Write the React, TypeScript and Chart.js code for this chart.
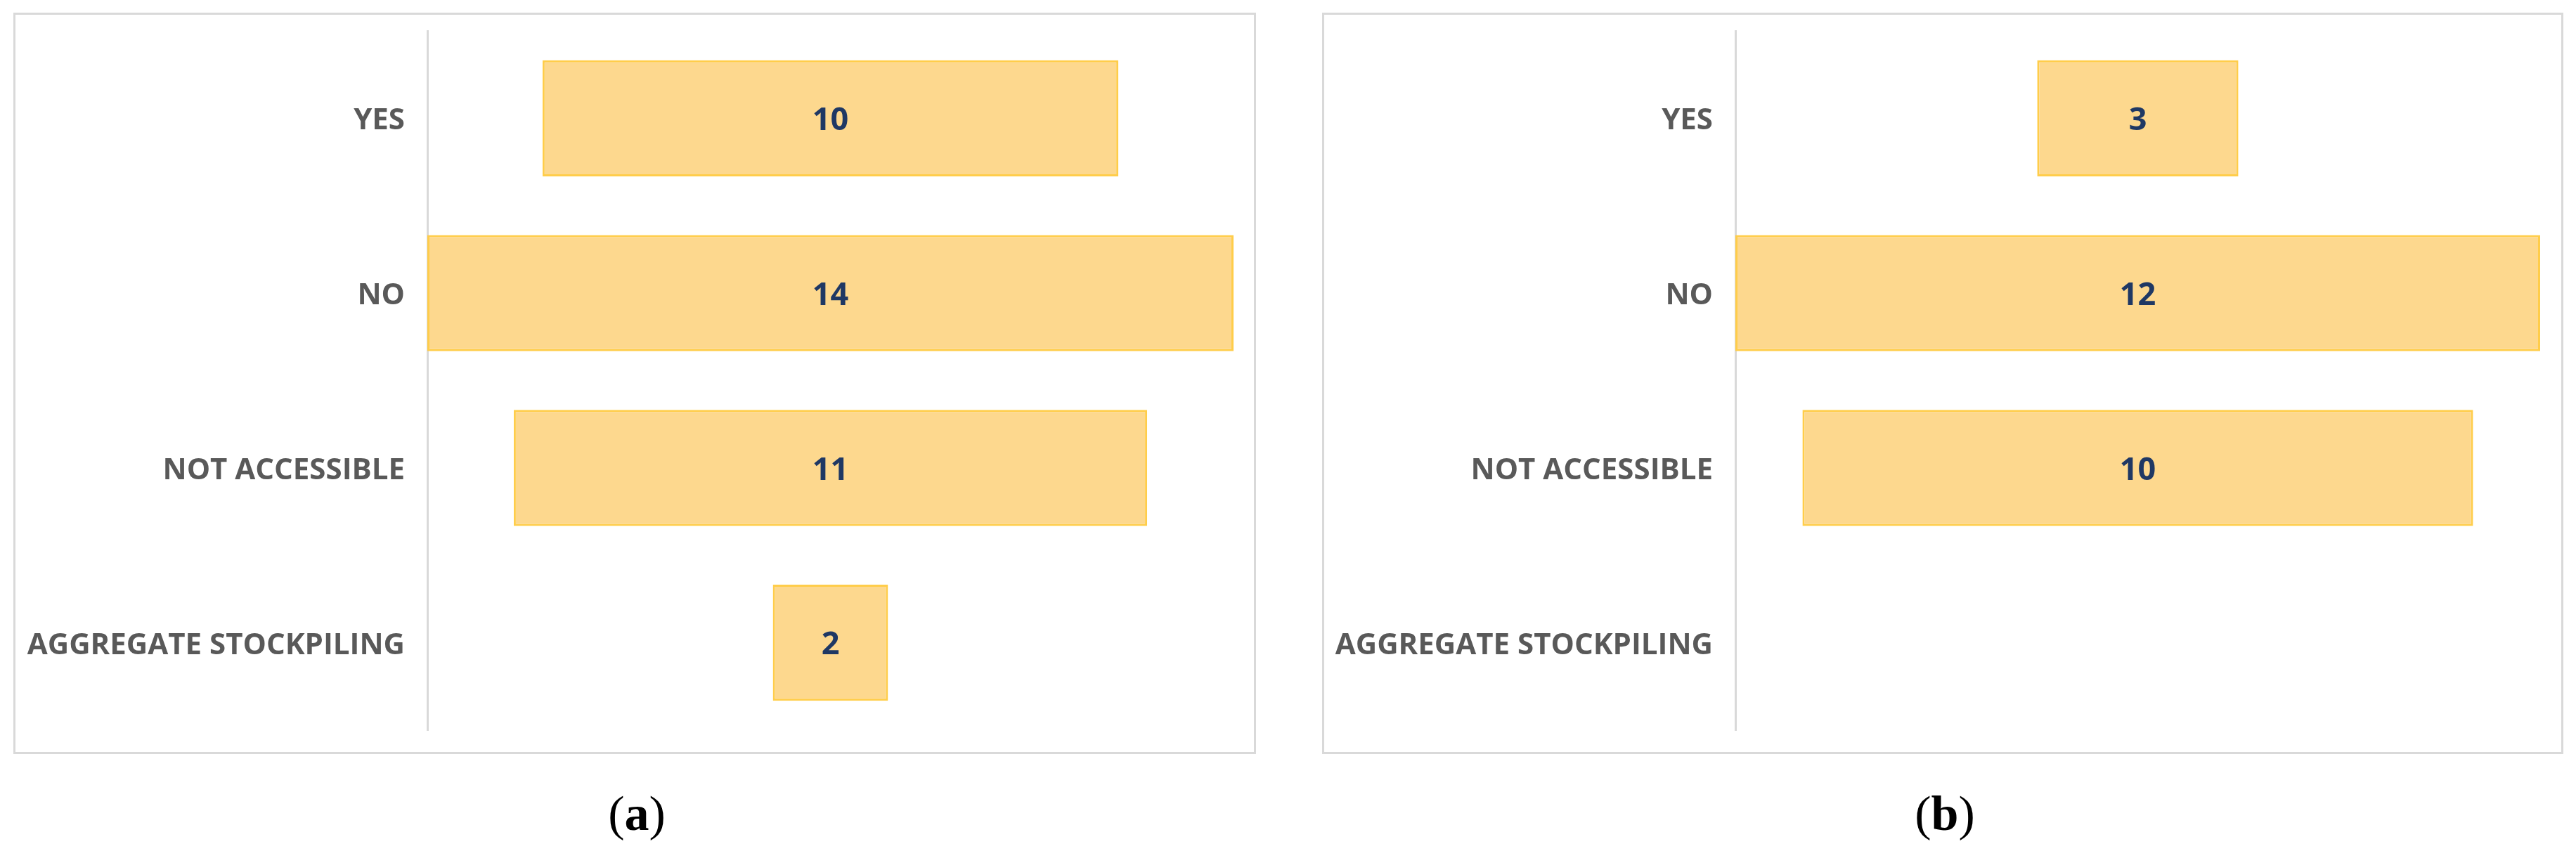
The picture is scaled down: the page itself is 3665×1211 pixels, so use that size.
import React, { useEffect, useRef } from "react";
import { Chart, registerables } from "chart.js";

Chart.register(...registerables);

const categories: string[] = ["YES", "NO", "NOT ACCESSIBLE", "AGGREGATE STOCKPILING"];
const valuesA: (number | null)[] = [10, 14, 11, 2];
const valuesB: (number | null)[] = [3, 12, 10, null];
const captionLetters: string[] = ["a", "b"];

const BAR_FILL = "#FDD88E";
const BAR_BORDER = "#FFCD4A";
const LABEL_COLOR = "#595959";
const VALUE_COLOR = "#1F3864";
const FRAME_COLOR = "#D9D9D9";

type PanelProps = {
  values: (number | null)[];
  left: number;
  top: number;
  width: number;
  height: number;
  axisX: number;
  plotRight: number;
  plotTop: number;
  plotBottom: number;
};

const valueLabelPlugin = {
  id: "valueLabels",
  afterDatasetsDraw(chart: any) {
    const ctx = chart.ctx;
    const meta = chart.getDatasetMeta(0);
    const raw = chart.data.datasets[0].rawValues as (number | null)[];
    ctx.save();
    ctx.fillStyle = VALUE_COLOR;
    ctx.font = "700 45px 'Open Sans'";
    ctx.textAlign = "center";
    ctx.textBaseline = "middle";
    meta.data.forEach((el: any, i: number) => {
      const v = raw[i];
      if (v === null || v === undefined) return;
      const cx = (el.x + el.base) / 2;
      ctx.fillText(String(v), cx, el.y + 4);
    });
    ctx.restore();
  },
};

function Panel(props: PanelProps) {
  const ref = useRef<HTMLCanvasElement | null>(null);
  useEffect(() => {
    if (!ref.current) return;
    const maxVal = Math.max(...(props.values.filter((v) => v !== null) as number[]));
    const chart = new Chart(ref.current, {
      type: "bar",
      data: {
        labels: categories,
        datasets: [
          {
            data: props.values.map((v) => (v === null ? null : [-v / 2, v / 2])) as any,
            rawValues: props.values,
            backgroundColor: BAR_FILL,
            borderColor: BAR_BORDER,
            borderWidth: 3,
            borderSkipped: false,
            categoryPercentage: 1,
            barPercentage: 0.664,
          } as any,
        ],
      },
      options: {
        indexAxis: "y",
        animation: false,
        responsive: false,
        devicePixelRatio: 1,
        layout: {
          padding: {
            left: 0,
            right: props.left + props.width - props.plotRight,
            top: props.plotTop - props.top,
            bottom: props.top + props.height - props.plotBottom,
          },
        },
        plugins: {
          legend: { display: false },
          tooltip: { enabled: false },
          title: { display: false },
        },
        scales: {
          x: {
            type: "linear",
            display: false,
            min: -maxVal / 2,
            max: maxVal / 2,
          },
          y: {
            type: "category",
            position: "left",
            grid: { display: false, drawTicks: false },
            border: { display: true, color: FRAME_COLOR, width: 3 },
            ticks: {
              color: LABEL_COLOR,
              padding: 32,
              labelOffset: 4,
              font: { family: "'Open Sans'", size: 42, weight: "700" as any },
            },
            afterFit: (scale: any) => {
              scale.width = props.axisX - props.left;
              scale.paddingTop = 0;
              scale.paddingBottom = 0;
            },
          },
        },
      },
      plugins: [valueLabelPlugin],
    } as any);
    return () => chart.destroy();
  }, []);
  return (
    <>
      <div
        style={{
          position: "absolute",
          left: props.left,
          top: props.top,
          width: props.width,
          height: props.height,
          boxSizing: "border-box",
          border: `3px solid ${FRAME_COLOR}`,
          background: "#FFFFFF",
        }}
      />
      <canvas
        ref={ref}
        width={props.width}
        height={props.height}
        style={{
          position: "absolute",
          left: props.left,
          top: props.top,
          width: props.width,
          height: props.height,
        }}
      />
    </>
  );
}

function Caption({ letter, cx }: { letter: string; cx: number }) {
  return (
    <div
      style={{
        position: "absolute",
        left: cx - 150,
        top: 1120,
        width: 300,
        height: 76,
        lineHeight: "76px",
        textAlign: "center",
        fontFamily: "'Liberation Serif', 'DejaVu Serif', serif",
        fontSize: 70,
        color: "#000000",
      }}
    >
      (<b>{letter}</b>)
    </div>
  );
}

export default function App() {
  return (
    <div
      style={{
        position: "absolute",
        left: 0,
        top: 0,
        width: 3665,
        height: 1211,
        background: "#FFFFFF",
        overflow: "hidden",
      }}
    >
      <Panel
        values={valuesA}
        left={19}
        top={18}
        width={1768}
        height={1055}
        axisX={608}
        plotRight={1755}
        plotTop={44}
        plotBottom={1039}
      />
      <Panel
        values={valuesB}
        left={1881}
        top={18}
        width={1766}
        height={1055}
        axisX={2469}
        plotRight={3614}
        plotTop={44}
        plotBottom={1039}
      />
      <Caption letter={captionLetters[0]} cx={906} />
      <Caption letter={captionLetters[1]} cx={2767} />
    </div>
  );
}
